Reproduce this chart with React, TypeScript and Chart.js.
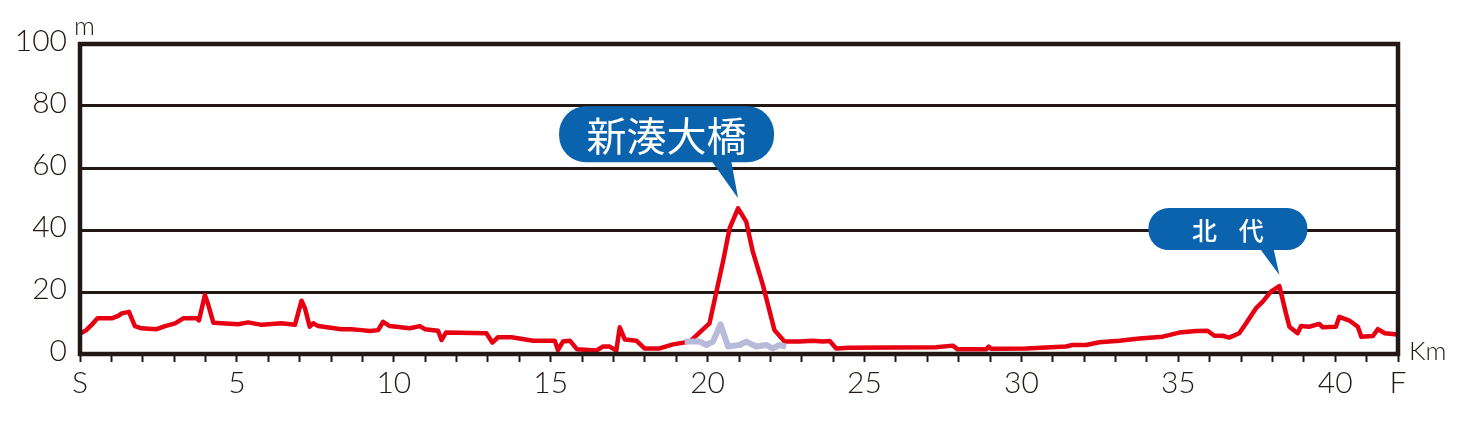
import React, { useEffect, useRef } from 'react';
import { Chart, registerables } from 'chart.js';

Chart.register(...registerables);

// course elevation (km, m)
const elevKm = [
  0, 0.2, 0.37, 0.56, 1.01, 1.22, 1.33, 1.56, 1.75, 1.96, 2.44, 2.71, 3.03, 3.29, 3.72, 3.79, 3.98, 4.09, 4.25,
  5.04, 5.36, 5.79, 6.42, 6.85, 7.06, 7.17, 7.32, 7.43, 7.59, 8.33, 8.65, 8.97, 9.24, 9.5, 9.66, 9.87,
  10.51, 10.83, 10.99, 11.41, 11.52, 11.66, 12.95, 13.14, 13.32, 13.75, 14.44, 15.13, 15.23, 15.39, 15.61, 15.84,
  16.45, 16.67, 16.88, 17.09, 17.2, 17.36, 17.73, 17.99, 18.47, 18.9, 19.43, 20.06, 20.28, 20.49, 20.7, 20.97,
  21.23, 21.44, 21.76, 22.13, 22.45, 22.93, 23.35, 23.67, 23.89, 24.1, 24.5, 27.28, 27.81, 27.97, 28.88, 28.96,
  29.03, 30.15, 31.42, 31.63, 32.06, 32.48, 33.12, 33.76, 34.5, 35.03, 35.56, 35.93, 36.15, 36.41, 36.62, 36.94,
  37.16, 37.47, 37.69, 37.95, 38.22, 38.43, 38.54, 38.8, 38.91, 39.17, 39.49, 39.6, 40.02, 40.13, 40.45, 40.72,
  40.83, 41.2, 41.36, 41.58, 41.9, 42,
];
const elevM = [
  6.5, 7.7, 9.4, 11.5, 11.5, 12.3, 13.1, 13.6, 9.0, 8.3, 8.0, 9.0, 9.9, 11.5, 11.5, 10.8, 19.0, 15.8, 10.1,
  9.6, 10.2, 9.4, 9.9, 9.4, 17.2, 14.7, 8.8, 9.9, 9.0, 8.0, 8.0, 7.7, 7.4, 7.7, 10.4, 9.0,
  8.3, 9.0, 8.0, 7.5, 4.5, 6.9, 6.7, 3.7, 5.4, 5.4, 4.3, 4.3, 1.3, 4.0, 4.3, 1.5,
  1.1, 2.4, 2.4, 1.1, 8.6, 4.7, 4.3, 1.8, 1.8, 3.1, 4.0, 9.9, 20.1, 29.8, 40.5, 47.0,
  42.7, 33.0, 22.3, 7.7, 4.0, 4.0, 4.3, 4.0, 4.2, 1.8, 2.0, 2.2, 2.7, 1.5, 1.5, 2.4,
  1.7, 1.8, 2.4, 2.9, 2.9, 3.8, 4.3, 5.0, 5.6, 6.9, 7.4, 7.5, 5.9, 5.9, 5.3, 6.7,
  9.9, 14.7, 16.9, 20.1, 21.9, 13.1, 8.8, 6.7, 9.0, 8.8, 9.7, 8.6, 8.8, 12.0, 10.8, 8.8,
  5.6, 5.8, 8.0, 6.7, 6.4, 6.3,
];

// lower road under the bridge
const lowerKm = [19.27, 19.75, 19.96, 20.17, 20.41, 20.65, 21.02, 21.23, 21.55, 21.87, 22.08, 22.29, 22.5];
const lowerM = [4.0, 4.0, 2.9, 4.0, 9.6, 2.4, 2.9, 4.0, 2.4, 2.9, 1.8, 2.9, 2.4];

const xLabelKm = [0, 5, 10, 15, 20, 25, 30, 35, 40, 42];
const xLabelText = ['S', '5', '10', '15', '20', '25', '30', '35', '40', 'F'];

const calloutText = ['新湊大橋', '北 代'];
const calloutKm = [20.97, 38.22];
const calloutM = [47, 21.9];

const INK = '#231815';
const RED = '#e60012';
const BLUE = '#0b63ad';
const FONT = 'Lato';

const calloutStyle = [
  { size: 40, weight: 400, left: -179, right: 36, top: -92, bottom: -36, baseL: -27, baseR: -7, lift: 10, radius: 27, spacing: 0 },
  { size: 25, weight: 500, left: -131, right: 28, top: -67, bottom: -25, baseL: -20, baseR: -6, lift: 11, radius: 20, spacing: 8 },
];

const extras = {
  id: 'extras',
  afterDatasetsDraw(chart: any) {
    const { ctx, chartArea: a, scales } = chart;
    ctx.save();
    // frame
    ctx.strokeStyle = INK;
    ctx.lineWidth = 4.5;
    ctx.strokeRect(a.left, a.top, a.right - a.left, a.bottom - a.top);

    // units
    ctx.fillStyle = INK;
    ctx.textAlign = 'left';
    ctx.textBaseline = 'alphabetic';
    ctx.font = `300 26px ${FONT}`;
    ctx.fillText('m', a.left - 6, a.top - 9);
    ctx.fillText('Km', a.right + 11, a.bottom + 6);

    // callouts
    calloutText.forEach((txt, i) => {
      const s = calloutStyle[i];
      const tx = scales.x.getPixelForValue(calloutKm[i]);
      const ty = scales.y.getPixelForValue(calloutM[i]) - s.lift;
      const l = tx + s.left, r = tx + s.right, t = ty + s.top, b = ty + s.bottom;
      ctx.fillStyle = BLUE;
      ctx.beginPath();
      ctx.roundRect(l, t, r - l, b - t, s.radius);
      ctx.fill();
      ctx.beginPath();
      ctx.moveTo(tx + s.baseL, b - 2);
      ctx.lineTo(tx, ty);
      ctx.lineTo(tx + s.baseR, b - 2);
      ctx.closePath();
      ctx.fill();
      ctx.fillStyle = '#ffffff';
      ctx.font = `${s.weight} ${s.size}px "Noto Sans CJK JP"`;
      (ctx as any).letterSpacing = `${s.spacing}px`;
      ctx.textAlign = 'center';
      ctx.textBaseline = 'middle';
      ctx.fillText(txt, (l + r) / 2 + s.spacing / 2, (t + b) / 2 + 1);
      (ctx as any).letterSpacing = '0px';
    });
    ctx.restore();
  },
};

const ElevationChart = () => {
  const canvasRef = useRef<HTMLCanvasElement>(null);
  const chartRef = useRef<Chart>();

  useEffect(() => {
    if (!canvasRef.current) return;
    if (chartRef.current) chartRef.current.destroy();

    chartRef.current = new Chart(canvasRef.current, {
      type: 'line',
      data: {
        datasets: [
          {
            label: 'elevation',
            data: elevKm.map((k, i) => ({ x: k, y: elevM[i] })),
            borderColor: RED,
            borderWidth: 4.5,
            borderJoinStyle: 'round',
            pointRadius: 0,
            tension: 0,
            order: 2,
          },
          {
            label: 'lower road',
            data: lowerKm.map((k, i) => ({ x: k, y: lowerM[i] })),
            borderColor: '#b7bad9',
            borderWidth: 6,
            borderJoinStyle: 'round',
            pointRadius: 0,
            tension: 0,
            order: 1,
          },
        ],
      },
      options: {
        animation: false,
        responsive: true,
        maintainAspectRatio: false,
        layout: { padding: { top: 44, right: 62, left: 0, bottom: 0 } },
        plugins: { legend: { display: false }, tooltip: { enabled: false } },
        scales: {
          x: {
            type: 'linear',
            min: 0,
            max: 42,
            afterBuildTicks: (scale: any) => {
              scale.ticks = Array.from({ length: 43 }, (_, i) => ({ value: i }));
            },
            afterFit: (scale: any) => {
              scale.height = 82;
            },
            ticks: {
              autoSkip: false,
              maxRotation: 0,
              padding: 3,
              color: INK,
              font: { family: FONT, size: 30, weight: 300 },
              callback: (v: any) => {
                const idx = xLabelKm.indexOf(Number(v));
                return idx >= 0 ? xLabelText[idx] : '';
              },
            },
            grid: {
              drawOnChartArea: false,
              drawTicks: true,
              tickLength: 8,
              tickColor: INK,
              tickWidth: 2,
            },
            border: { display: false },
          },
          y: {
            min: 0,
            max: 100,
            afterFit: (scale: any) => {
              scale.width = 80;
            },
            ticks: {
              stepSize: 10,
              padding: 13,
              labelOffset: -3,
              color: INK,
              font: { family: FONT, size: 30, weight: 300 },
              callback: (v: any) => (Number(v) % 20 === 0 ? String(v) : ''),
            },
            grid: {
              drawTicks: false,
              color: (c: any) => (c.tick && c.tick.value % 20 === 0 ? INK : '#6f6f6f'),
              lineWidth: (c: any) => {
                const v = c.tick ? c.tick.value : 0;
                if (v === 0 || v === 100) return 0;
                return v % 20 === 0 ? 3 : 1;
              },
            },
            border: {
              display: false,
              dash: (c: any) => (c.tick && c.tick.value % 20 !== 0 ? [3, 5] : []),
            },
          },
        },
      },
      plugins: [extras],
    });

    return () => {
      if (chartRef.current) chartRef.current.destroy();
    };
  }, []);

  return (
    <div style={{ position: 'fixed', left: 0, top: 0, width: 1460, height: 436, background: '#fff' }}>
      <canvas ref={canvasRef} />
    </div>
  );
};

export default function App() {
  return <ElevationChart />;
}
